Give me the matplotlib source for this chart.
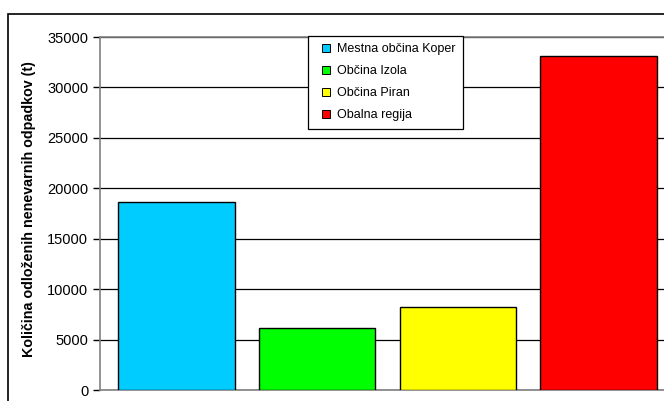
import matplotlib.pyplot as plt
from matplotlib.patches import Rectangle
from matplotlib.lines import Line2D

plt.rcParams['font.family'] = ['Liberation Sans', 'DejaVu Sans']

# data
labels = ["Mestna občina Koper", "Občina Izola", "Občina Piran", "Obalna regija"]
values = [18640, 6150, 8230, 33120]
colors = ["#00CCFF", "#00FF00", "#FFFF00", "#FF0000"]
yticks = [0, 5000, 10000, 15000, 20000, 25000, 30000, 35000]

fig = plt.figure(figsize=(6.64, 4.01), dpi=100)
# plot area runs off the right edge like in the original export
ax = fig.add_axes([100/664, 11/401, 575/664, 353/401])

for i, (lab, v, c) in enumerate(zip(labels, values, colors)):
    ax.bar(i, v, width=0.828, color=c, edgecolor="black", linewidth=1, zorder=3)

ax.set_xlim(-0.544, 3.544)
ax.set_ylim(0, 35000)
ax.set_yticks(yticks)
ax.set_yticklabels([str(t) for t in yticks], fontsize=10.5)
ax.set_xticks([])
ax.tick_params(axis="y", length=5, width=1, pad=3.5, color="black")
ax.grid(axis="y", color="black", linewidth=0.9, zorder=0)

for s in ["left", "bottom", "top"]:
    ax.spines[s].set_color("#808080")
    ax.spines[s].set_linewidth(1.2)
ax.spines["right"].set_visible(False)

ax.set_ylabel("Količina odloženih nenevarnih odpadkov (t)", fontsize=10.3, fontweight="bold")
ax.yaxis.set_label_coords(-0.111, 0.513)

# legend with small square markers
handles = [Line2D([], [], marker="s", linestyle="none", markersize=5.8,
                  markerfacecolor=c, markeredgecolor="black", markeredgewidth=0.7)
           for c in colors]
leg = ax.legend(handles, labels, loc="upper left", bbox_to_anchor=(208/575, 1.003),
                fontsize=9, frameon=True, fancybox=False, edgecolor="black",
                framealpha=1, handlelength=1.6, handletextpad=0.15,
                labelspacing=0.8, borderpad=0.6, borderaxespad=0)
leg.get_frame().set_linewidth(0.9)

# chart border
fig.patches.append(Rectangle((8/664, -0.1), 1.2, (401-14)/401 + 0.1,
                             transform=fig.transFigure, fill=False,
                             edgecolor="black", linewidth=1.2))

fig.savefig("out.png", dpi=100)
